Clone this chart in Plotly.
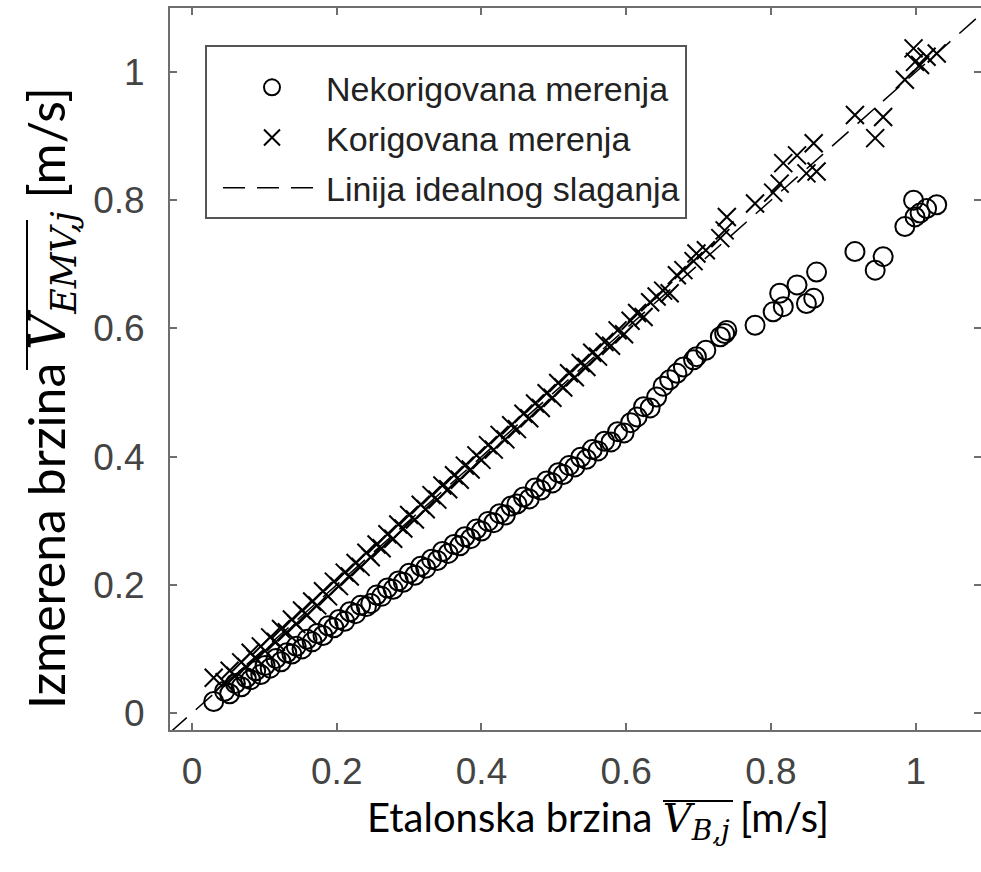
import plotly.graph_objects as go

# Reference velocity (shared x for both measurement series) [m/s]
v_ref = [0.030, 0.045, 0.052, 0.060, 0.068, 0.075, 0.081, 0.088, 0.095, 0.101,
         0.108, 0.116, 0.123, 0.131, 0.138, 0.144, 0.152, 0.159, 0.166, 0.173,
         0.181, 0.188, 0.196, 0.203, 0.211, 0.218, 0.226, 0.233, 0.241, 0.247,
         0.255, 0.262, 0.270, 0.278, 0.285, 0.292, 0.300, 0.308, 0.316, 0.323,
         0.331, 0.339, 0.346, 0.354, 0.362, 0.370, 0.377, 0.385, 0.393, 0.400,
         0.409, 0.417, 0.425, 0.433, 0.441, 0.449, 0.458, 0.466, 0.474, 0.482,
         0.490, 0.498, 0.506, 0.513, 0.521, 0.529, 0.537, 0.545, 0.553, 0.561,
         0.570, 0.579, 0.588, 0.597, 0.606, 0.615, 0.624, 0.633, 0.642, 0.651,
         0.660, 0.670, 0.679, 0.693, 0.697, 0.710, 0.730, 0.736, 0.739, 0.778,
         0.803, 0.812, 0.817, 0.836, 0.849, 0.859, 0.863, 0.916, 0.944, 0.955,
         0.985, 0.997, 0.999, 1.006, 1.015, 1.029]

# Uncorrected measurements (circles)
v_uncorr = [0.018, 0.034, 0.030, 0.046, 0.041, 0.055, 0.052, 0.066, 0.060, 0.074,
            0.070, 0.085, 0.080, 0.094, 0.092, 0.104, 0.100, 0.115, 0.111, 0.124,
            0.121, 0.136, 0.133, 0.146, 0.143, 0.158, 0.155, 0.168, 0.166, 0.171,
            0.184, 0.182, 0.195, 0.193, 0.206, 0.204, 0.218, 0.215, 0.229, 0.226,
            0.240, 0.238, 0.252, 0.249, 0.263, 0.261, 0.275, 0.272, 0.287, 0.284,
            0.299, 0.297, 0.311, 0.309, 0.323, 0.326, 0.337, 0.334, 0.351, 0.348,
            0.362, 0.359, 0.375, 0.372, 0.386, 0.384, 0.399, 0.396, 0.411, 0.409,
            0.424, 0.423, 0.439, 0.437, 0.453, 0.462, 0.478, 0.476, 0.493, 0.510,
            0.520, 0.530, 0.540, 0.551, 0.556, 0.566, 0.587, 0.592, 0.597, 0.605,
            0.626, 0.655, 0.634, 0.668, 0.639, 0.647, 0.688, 0.720, 0.691, 0.712,
            0.759, 0.800, 0.774, 0.780, 0.787, 0.793]

# Corrected measurements (crosses)
v_corr = [0.055, 0.048, 0.066, 0.058, 0.079, 0.072, 0.094, 0.085, 0.104, 0.097,
          0.118, 0.111, 0.131, 0.126, 0.146, 0.139, 0.160, 0.153, 0.174, 0.168,
          0.190, 0.182, 0.205, 0.198, 0.219, 0.213, 0.234, 0.228, 0.250, 0.243,
          0.263, 0.257, 0.279, 0.272, 0.294, 0.288, 0.309, 0.302, 0.325, 0.318,
          0.340, 0.333, 0.355, 0.349, 0.371, 0.364, 0.386, 0.380, 0.402, 0.395,
          0.418, 0.411, 0.434, 0.427, 0.449, 0.443, 0.467, 0.460, 0.483, 0.476,
          0.499, 0.492, 0.515, 0.508, 0.530, 0.524, 0.546, 0.540, 0.562, 0.556,
          0.579, 0.573, 0.597, 0.591, 0.612, 0.624, 0.618, 0.641, 0.650, 0.659,
          0.655, 0.683, 0.691, 0.705, 0.717, 0.722, 0.741, 0.753, 0.774, 0.795,
          0.812, 0.826, 0.858, 0.870, 0.842, 0.889, 0.845, 0.933, 0.897, 0.930,
          0.988, 1.037, 1.016, 1.011, 1.024, 1.029]

# Ideal agreement line
ideal_x = [-0.03, 1.1]
ideal_y = [-0.03, 1.1]

x_ticks = [0, 0.2, 0.4, 0.6, 0.8, 1]
x_ticktext = ["0", "0.2", "0.4", "0.6", "0.8", "1"]
y_ticks = [0, 0.2, 0.4, 0.6, 0.8, 1]
y_ticktext = ["0", "0.2", "0.4", "0.6", "0.8", "1"]

W, H = 981, 872
ML, MR, MT, MB = 170, 0, 8, 142
PW, PH = W - ML - MR, H - MT - MB


def px(xp):
    return (xp - ML) / PW


def py(yp):
    return (H - MB - yp) / PH


AX = "#6e6e6e"
TICKFONT = dict(family="Liberation Sans, Arial, sans-serif", size=37, color="#444444")
XTITLEFONT = dict(family="Lato, Open Sans, sans-serif", size=40, color="#000000")
YTITLEFONT = dict(family="Lato, Open Sans, sans-serif", size=50, color="#000000")
SERIF_I = 'font-family:DejaVu Serif;font-style:italic'

fig = go.Figure()
fig.add_trace(go.Scatter(
    x=v_ref, y=v_uncorr, mode="markers", name="Nekorigovana merenja",
    legendgroup="a",
    marker=dict(symbol="circle-open", size=19, color="black", line=dict(width=2, color="black")),
))
fig.add_trace(go.Scatter(
    x=v_ref, y=v_corr, mode="markers", name="Korigovana merenja",
    legendgroup="b",
    marker=dict(symbol="x-thin-open", size=18, color="black", line=dict(width=2, color="black")),
))
fig.add_trace(go.Scatter(
    x=ideal_x, y=ideal_y, mode="lines", name="Linija idealnog slaganja",
    legendgroup="c",
    line=dict(color="black", width=1.5, dash="22px,12px"),
))

xtitle = ('Etalonska brzina <span style="%s">V</span>'
          '<sub><span style="%s">B,j</span></sub> [m/s]') % (SERIF_I, SERIF_I)
ytitle = ('Izmerena brzina <span style="%s">V</span>'
          '<sub><span style="%s">EMV,j</span></sub> [m/s]') % (SERIF_I, SERIF_I)

fig.add_annotation(text=xtitle, xref="paper", yref="paper",
                   x=px(598), y=py(820),
                   xanchor="center", yanchor="middle", showarrow=False, font=XTITLEFONT)
fig.add_annotation(text=ytitle, xref="paper", yref="paper",
                   x=px(50), y=py(398), textangle=-90,
                   xanchor="center", yanchor="middle", showarrow=False, font=YTITLEFONT)

# overlines of the mean-velocity symbols in the axis titles
fig.add_shape(type="line", xref="paper", yref="paper",
              x0=px(663), x1=px(733), y0=py(801), y1=py(801),
              line=dict(color="black", width=2))
fig.add_shape(type="line", xref="paper", yref="paper",
              x0=px(27), x1=px(27), y0=py(220), y1=py(370),
              line=dict(color="black", width=2))

fig.update_layout(
    width=W, height=H,
    margin=dict(l=ML, r=MR, t=MT, b=MB),
    paper_bgcolor="white", plot_bgcolor="white",
    showlegend=True,
    legend=dict(
        x=px(205), y=py(45), xanchor="left", yanchor="top",
        bordercolor="#555555", borderwidth=2, bgcolor="white",
        font=dict(family="Liberation Sans, Arial, sans-serif", size=34, color="#222222"),
        itemwidth=98, tracegroupgap=3, traceorder="grouped", indentation=11,
        title=dict(text=" ", font=dict(size=9)),
    ),
    xaxis=dict(
        range=[-0.0304, 1.0902], tickvals=x_ticks, ticktext=x_ticktext,
        showgrid=False, zeroline=False, showline=True, linecolor=AX, linewidth=2,
        mirror="ticks", ticks="inside", ticklen=7, tickwidth=1.5, tickcolor=AX,
        tickfont=TICKFONT, ticklabelstandoff=8, automargin=False,
    ),
    yaxis=dict(
        range=[-0.0265, 1.1], tickvals=y_ticks, ticktext=y_ticktext,
        showgrid=False, zeroline=False, showline=True, linecolor=AX, linewidth=2,
        mirror="ticks", ticks="inside", ticklen=7, tickwidth=1.5, tickcolor=AX,
        tickfont=TICKFONT, ticklabelstandoff=16, automargin=False,
    ),
)

fig.write_html(
    "out.html",
    config={"displayModeBar": False},
    post_script="document.body.style.margin='0';document.body.style.overflow='hidden';",
)
